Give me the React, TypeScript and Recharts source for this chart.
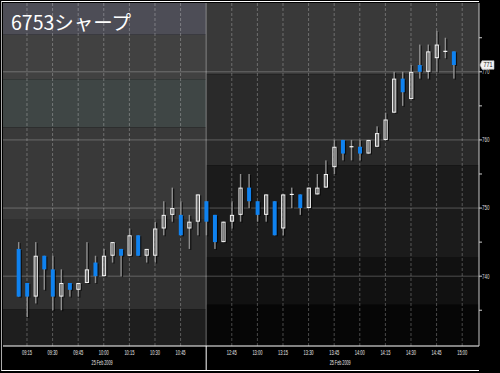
import React from 'react';
import { ComposedChart, Bar, XAxis, YAxis, ReferenceArea, ReferenceLine } from 'recharts';

// ---------- data (5-minute candles, slot index; session break collapsed at slot 24) ----------
const slots  = [2,3,4,5,6,7,8,9,10,11,12,13,14,15,16,17,18,19,20,21,22,23,24,25,26,27,28,29,30,31,32,33,34,35,36,37,38,39,40,41,42,43,44,45,46,47,48,49,50,51,52,53];
const opens  = [744,739,737,743,741,737,739,738,739,742,740,743,744,743,746,743,743,747,749,749,747,748,751,749,745,748,749,753,751,749,751,747,752,752,750,752,753,756,760,759,759,758,759,760,764,769,766,771,770,772,773,773];
const highs  = [745,739,745,743,743,741,739,739,745,743,744,745,744,747,746,744,748,751,753,751,749,752,751,749,748,751,755,755,751,752,751,752,753,752,753,755,757,760,760,760,760,760,762,764,770,770,771,774,774,776,775,773];
const lows   = [737,734,736,738,735,735,737,737,739,739,740,742,740,743,743,742,742,746,748,746,744,746,746,744,745,747,748,750,748,748,746,746,750,749,750,752,753,755,757,757,757,758,759,760,764,765,766,769,769,770,772,769];
const closes = [737,737,743,741,737,739,738,739,741,740,743,745,743,746,743,744,747,749,750,746,748,752,748,745,748,749,753,751,749,752,746,752,752,750,753,753,755,759,758,759,758,760,761,763,769,767,770,770,773,774,773,771];

const tickSlots  = [3,6,9,12,15,18,21,24,27,30,33,36,39,42,45,48,51,54];
const tickLabels = ['09:15','09:30','09:45','10:00','10:15','10:30','10:45','','12:45','13:00','13:15','13:30','13:45','14:00','14:15','14:30','14:45','15:00'];
const dateSlots  = [11.8, 39.7];
const dateLabel  = '25 Feb 2009';

const priceTicks = [735,740,745,750,755,760,765,770,775];
const priceGrid  = [740,750,760,770];
const lastPrice  = 771;
const title      = '6753シャープ';
const SESSION_BREAK = 24;

const X_MIN = 0.19, X_MAX = 55.97;
const Y_MIN = 729.75, Y_MAX = 780.1;

// background price bands for the two sessions
const leftBandTops    = [780.1, 775.45, 768.9, 761.85, 748.4, 735.1];
const leftBandBottoms = [775.45, 768.9, 761.85, 748.4, 735.1, 729.75];
const leftBandFills   = ['#4d4d56', '#414141', '#3f4645', '#393939', '#303030', '#1e1e1e'];
const rightBandTops    = [780.1, 769.6, 756.3, 742.8, 735.8];
const rightBandBottoms = [769.6, 756.3, 742.8, 735.8, 729.75];
const rightBandFills   = ['#393939', '#2a2a2a', '#1b1b1b', '#111111', '#060606'];

const data = slots.map((s, i) => ({ s, o: opens[i], h: highs[i], l: lows[i], c: closes[i] }));

const BLUE = '#0f82f0';
const FONT = '"Liberation Sans Narrow", "Liberation Sans", "DejaVu Sans", sans-serif';

const Candle = (props: any) => {
  const { x, y, width, height, payload } = props;
  if (payload == null || height == null) return null;
  const { o, h, l, c } = payload;
  const py = (p: number) => y + ((h - p) / (h - l)) * height;
  const cx = x + width / 2;
  const top = py(Math.max(o, c));
  const bot = py(Math.min(o, c));
  const up = c >= o;
  return (
    <g>
      <rect x={cx + 0.8} y={y + 1} width={1.2} height={height} fill="#000" opacity={0.7} />
      <rect x={cx - 0.7} y={y} width={1.4} height={height} fill="#8e8e8e" />
      {o === c ? (
        <line x1={cx - 2} x2={cx + 2} y1={top} y2={top} stroke="#fff" strokeWidth={1.2} />
      ) : up ? (
        <g>
          <rect x={cx + 2.2} y={top + 1} width={1.2} height={bot - top} fill="#000" opacity={0.7} />
          <rect x={cx - 1.6} y={top + 0.5} width={3.2} height={bot - top - 1} fill="none" stroke="#f4f4f4" strokeWidth={1} />
        </g>
      ) : (
        <g>
          <rect x={cx + 2} y={top + 1} width={1.2} height={bot - top} fill="#000" opacity={0.7} />
          <rect x={cx - 2} y={top} width={4} height={bot - top} fill={BLUE} />
        </g>
      )}
    </g>
  );
};

const XTick = (props: any) => {
  const { x, y, payload } = props;
  const i = tickSlots.indexOf(payload.value);
  if (payload.value === SESSION_BREAK) {
    return <line x1={x} x2={x} y1={y} y2={y + 25} stroke="#ffffff" strokeWidth={1} />;
  }
  return (
    <text x={x} y={y + 8.6} textAnchor="middle" fill="#e8e8e8" fontSize={6.5} fontFamily={FONT}
      textLength={10} lengthAdjust="spacingAndGlyphs">{tickLabels[i]}</text>
  );
};

const YTick = (props: any) => {
  const { x, y, payload } = props;
  if (!priceGrid.includes(payload.value)) return null;
  return (
    <text x={x - 1} y={y + 2.4} textAnchor="start" fill="#dddddd" fontSize={6.5} fontFamily={FONT}
      textLength={7.5} lengthAdjust="spacingAndGlyphs">{payload.value}</text>
  );
};

const TitleLabel = (props: any) => {
  const vb = props.viewBox || {};
  return (
    <text x={vb.x + 8} y={vb.y + 26.5} fill="#ffffff" fontSize={19.5}
      fontFamily='"Noto Sans CJK JP", "Noto Sans", sans-serif'>{title}</text>
  );
};

const DateLabel = (props: any) => {
  const vb = props.viewBox || {};
  return (
    <text x={vb.x} y={vb.y + vb.height + 19.3} textAnchor="middle" fill="#e8e8e8" fontSize={6.5}
      fontFamily={FONT} textLength={21} lengthAdjust="spacingAndGlyphs">{dateLabel}</text>
  );
};

const PriceMarker = (props: any) => {
  const vb = props.viewBox || {};
  const px = vb.x + vb.width;
  const cy = vb.y;
  return (
    <g>
      <polygon points={`${px + 1},${cy} ${px + 3},${cy - 4.2} ${px + 15},${cy - 4.2} ${px + 15},${cy + 4.2} ${px + 3},${cy + 4.2}`}
        fill="#f2f2f2" stroke="#bbbbbb" strokeWidth={0.6} />
      <text x={px + 9} y={cy + 2.4} textAnchor="middle" fill="#111" fontSize={6.5} fontFamily={FONT}
        textLength={9} lengthAdjust="spacingAndGlyphs">{lastPrice}</text>
    </g>
  );
};

export default function App() {
  return (
    <div style={{ position: 'fixed', left: 0, top: 0, width: 500, height: 373, background: '#000' }}>
      <ComposedChart width={500} height={373} data={data} margin={{ top: 3, right: 0, left: 3, bottom: 0 }}>
        {leftBandFills.map((f, i) => (
          <ReferenceArea key={'l' + i} x1={X_MIN} x2={SESSION_BREAK} y1={leftBandBottoms[i]} y2={leftBandTops[i]}
            fill={f} fillOpacity={1} stroke="none" ifOverflow="hidden" {...({ zIndex: -300 } as any)}
            label={i === 0 ? <TitleLabel /> : undefined} />
        ))}
        {rightBandFills.map((f, i) => (
          <ReferenceArea key={'r' + i} x1={SESSION_BREAK} x2={X_MAX} y1={rightBandBottoms[i]} y2={rightBandTops[i]}
            fill={f} fillOpacity={1} stroke="none" ifOverflow="hidden" {...({ zIndex: -300 } as any)} />
        ))}
        {tickSlots.filter((t) => t !== SESSION_BREAK).map((t) => (
          <ReferenceLine key={'v' + t} x={t} stroke="rgba(255,255,255,0.27)" strokeWidth={1} strokeDasharray="3 2"
            {...({ zIndex: -250 } as any)} />
        ))}
        {priceGrid.map((p) => (
          <ReferenceLine key={'g' + p} y={p} stroke="rgba(255,255,255,0.25)" strokeWidth={1} {...({ zIndex: -250 } as any)} />
        ))}
        <ReferenceLine x={SESSION_BREAK} stroke="rgba(255,255,255,0.4)" strokeWidth={1} {...({ zIndex: -250 } as any)} />
        {dateSlots.map((d) => (
          <ReferenceLine key={'d' + d} x={d} stroke="none" label={<DateLabel />} />
        ))}
        <ReferenceLine y={lastPrice} stroke="none" label={<PriceMarker />} />
        <XAxis dataKey="s" type="number" domain={[X_MIN, X_MAX]} allowDataOverflow ticks={tickSlots}
          interval={0} height={27} tickLine={false} tickSize={0} tickMargin={0}
          axisLine={{ stroke: '#ffffff', strokeWidth: 1 }} tick={<XTick />} />
        <YAxis orientation="right" type="number" domain={[Y_MIN, Y_MAX]} allowDataOverflow ticks={priceTicks}
          interval={0} width={21} tickSize={3} tickMargin={1}
          tickLine={{ stroke: '#cccccc' }} axisLine={{ stroke: '#c8c8c8', strokeWidth: 1 }} tick={<YTick />} />
        <Bar dataKey={(d: any) => [d.l, d.h]} barSize={5} shape={<Candle />} isAnimationActive={false} />
      </ComposedChart>
      <div style={{ position: 'absolute', left: 1, top: 1, width: 477, height: 368, borderTop: '1px solid #ffffff', borderLeft: '1px solid #aaaaaa', borderBottom: '1px solid #ffffff', pointerEvents: 'none' }} />
    </div>
  );
}
